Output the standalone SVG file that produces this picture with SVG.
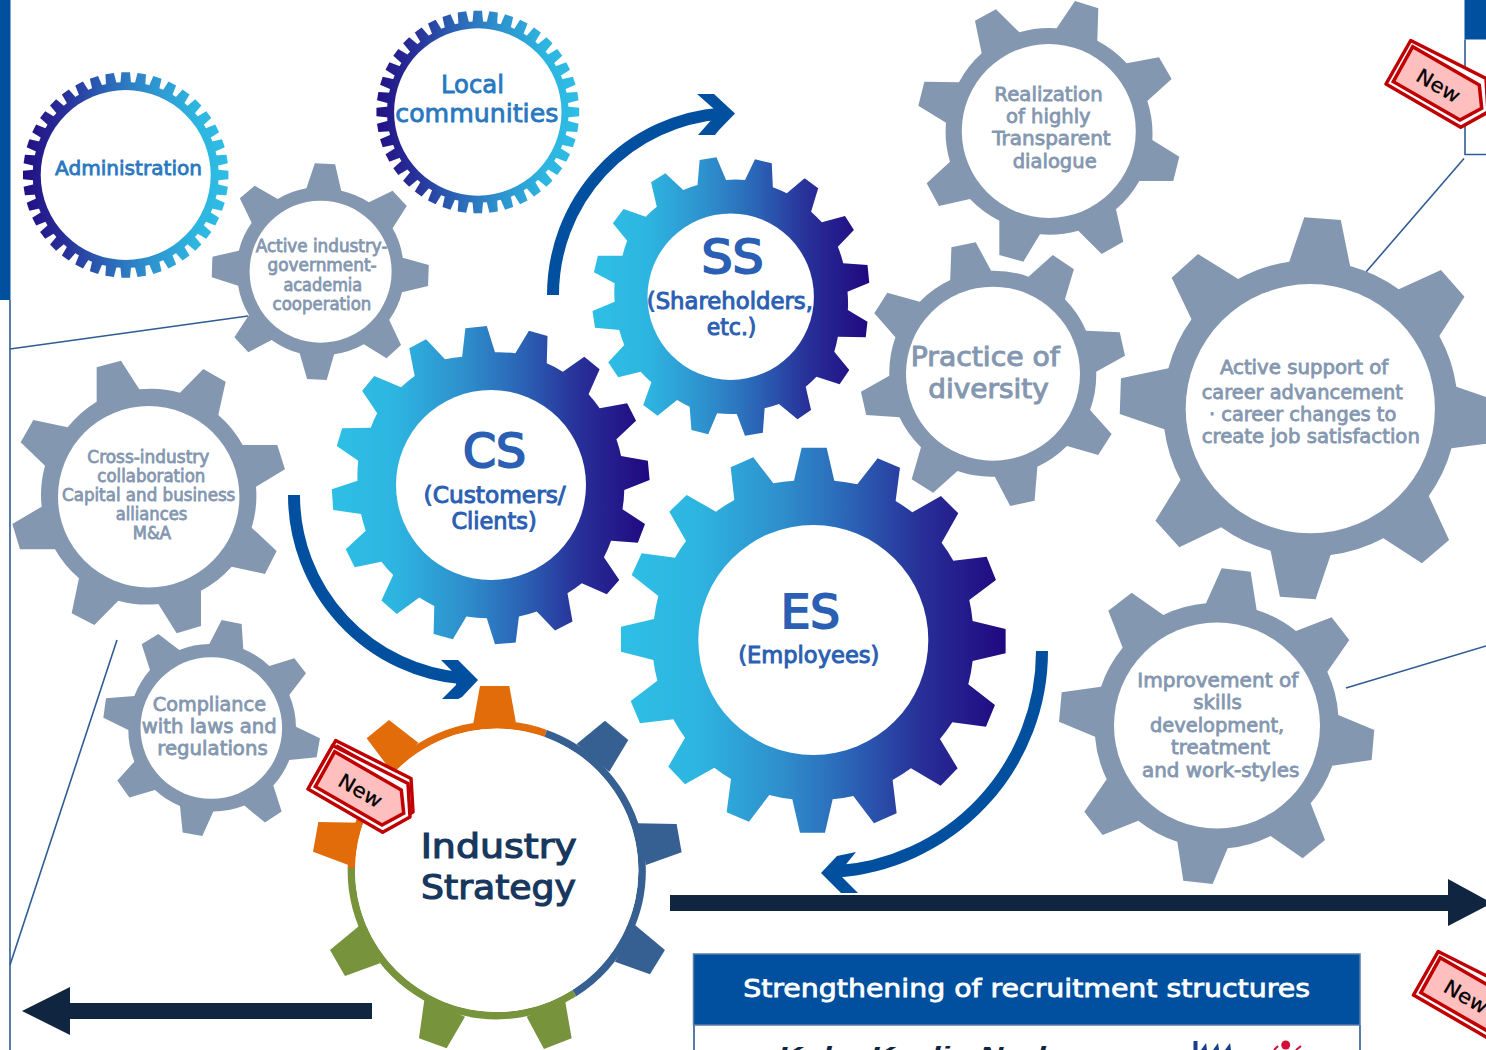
<svg xmlns="http://www.w3.org/2000/svg" xmlns:xlink="http://www.w3.org/1999/xlink" width="1486" height="1050" viewBox="0 0 1486 1050">
<style>
text{font-family:"DejaVu Sans","Liberation Sans",sans-serif;}
.gear{fill:#8497B0}
.hole{fill:#fff}
.gt{fill:#8497B0;stroke:#8497B0;stroke-width:.8}
.bt{fill:#2B5FB3;stroke:#2B5FB3;stroke-width:1}
.lt{fill:#2878C0;stroke:#2878C0;stroke-width:.8}
.ln{fill:none;stroke:#2F5C94;stroke-width:1.6}
.arc{fill:none;stroke:#00509F;stroke-width:12}
.hd{fill:#00509F}
.dk{fill:#10253F}
.is{fill:#17375E;stroke:#17375E;stroke-width:1.2;font-size:34px}
.ngrad{fill:url(#grad)}
.tago{fill:#fff;stroke:#C00000;stroke-width:3.5;stroke-linejoin:round}
.tagi{fill:#FFBFBF;stroke:#C00000;stroke-width:3.5}
.tagt{fill:#000;stroke:#000;stroke-width:.3;font-size:20px}
</style>
<defs>
<linearGradient id="grad" x1="0" x2="1" y1="0" y2="0">
<stop offset="0" stop-color="#2DBFE6"/><stop offset=".2" stop-color="#2DB5E0"/><stop offset=".42" stop-color="#2E8ECC"/><stop offset=".58" stop-color="#2B68B8"/><stop offset=".78" stop-color="#282F98"/><stop offset="1" stop-color="#200880"/>
</linearGradient>
<linearGradient id="gradr" x1="1" x2="0" y1="0" y2="0">
<stop offset="0" stop-color="#2DBFE6"/><stop offset=".2" stop-color="#2DB5E0"/><stop offset=".42" stop-color="#2E8ECC"/><stop offset=".58" stop-color="#2B68B8"/><stop offset=".78" stop-color="#282F98"/><stop offset="1" stop-color="#200880"/>
</linearGradient>
<polygon id="t1" points="-5.500,-90 -4.300,-102.700 4.300,-102.700 5.500,-90" fill="#fff"/>
<g id="t5"><use href="#t1"/><use href="#t1" transform="rotate(9)"/><use href="#t1" transform="rotate(18)"/><use href="#t1" transform="rotate(27)"/><use href="#t1" transform="rotate(36)"/></g>
<g id="t10"><use href="#t5"/><use href="#t5" transform="rotate(45)"/></g>
<g id="t40"><use href="#t10"/><use href="#t10" transform="rotate(90)"/><use href="#t10" transform="rotate(180)"/><use href="#t10" transform="rotate(270)"/></g>
<mask id="m-admin" maskUnits="userSpaceOnUse" x="15" y="65" width="225" height="225"><g transform="translate(125.7,175)"><use href="#t40"/><circle r="93" fill="#fff"/></g></mask>
<mask id="m-local" maskUnits="userSpaceOnUse" x="365" y="0" width="225" height="225"><g transform="translate(477.8,112) scale(.987)"><use href="#t40"/><circle r="92" fill="#fff"/></g></mask>
<g id="new-tag">
<polygon class="tago" points="1410.7,40.5 1386,84 1460.7,127.3 1488,112 1486,78.5"/>
<polygon class="tagi" points="1412.7,46.7 1393.3,81.7 1460,120 1481.7,108.3 1479.3,85"/>
<text class="tagt" transform="translate(1414.500,80) rotate(30)" textLength="47" lengthAdjust="spacingAndGlyphs">New</text>
</g>
</defs>
<rect width="1486" height="1050" fill="#fff"/>

<g id="frames">
<rect x="0" y="0" width="10.500" height="300" fill="#00509F"/>
<rect x="1464.500" y="0" width="22" height="39.500" fill="#00509F"/>
<path class="ln" d="M1465 39.500V154.500H1486"/>
</g>

<g id="connectors">
<path class="ln" d="M10 300V1050"/>
<path class="ln" d="M10 349L248 316"/>
<path class="ln" d="M117 640L10 965"/>
<path class="ln" d="M1464 158.500L1366 272"/>
<path class="ln" d="M1346 688L1486 646"/>
<path class="arc" d="M553 295A182 182 0 0 1 722 113.500"/>
<polygon class="hd" points="735,113.500 719,130 715,135 698,135 713,118 714,109 697,94 714,94"/>
<path class="arc" d="M294 495A184 184 0 0 0 464 678.500"/>
<polygon class="hd" points="478,680 462,697 458,699 442,699 456,685 457,676 441,660 458,660"/>
<path class="arc" d="M1042 651A221 221 0 0 1 835 871.600"/>
<polygon class="hd" points="821,873 837,856 856,852 843,868 842,877 858,893 841,893"/>
<rect class="dk" x="670" y="895" width="780" height="16"/>
<polygon class="dk" points="1448,879 1448,926 1492,903"/>
<rect class="dk" x="68" y="1003" width="304" height="16"/>
<polygon class="dk" points="70,987 70,1035 22,1011"/>
</g>

<g id="n-administration">
<rect x="15" y="65" width="225" height="225" fill="url(#gradr)" mask="url(#m-admin)"/>
<circle class="hole" cx="125.700" cy="175" r="85"/>
<text class="lt" x="55" y="175" font-size="19.500" textLength="147" lengthAdjust="spacingAndGlyphs">Administration</text>
</g>

<g id="n-local">
<rect x="365" y="0" width="225" height="225" fill="url(#gradr)" mask="url(#m-local)"/>
<circle class="hole" cx="477.800" cy="112" r="83.700"/>
<text class="lt" x="441" y="93" font-size="24" textLength="63" lengthAdjust="spacingAndGlyphs">Local</text>
<text class="lt" x="395.300" y="122" font-size="24" textLength="163" lengthAdjust="spacingAndGlyphs">communities</text>
</g>

<g id="n-industry-gov">
<path class="gear" transform="translate(205,0) scale(.338,.3333)" d="M300 565L325 490 385 493 403 572A245 245 0 0 1 485 607L555 572 597 618 555 685A245 245 0 0 1 585 773L662 795 660 858 583 877A245 245 0 0 1 545 960L580 1035 537 1075 470 1033A245 245 0 0 1 382 1063L360 1140 302 1137 280 1060A245 245 0 0 1 197 1020L128 1057 87 1012 130 945A245 245 0 0 1 98 857L20 832 22 770 100 752A245 245 0 0 1 138 668L103 595 147 557 215 597A245 245 0 0 1 300 565Z"/>
<ellipse class="hole" cx="320.600" cy="271.700" rx="71" ry="71"/>
<g class="gt" font-size="17">
<text x="255.700" y="252.300" textLength="131.800" lengthAdjust="spacingAndGlyphs">Active industry-</text>
<text x="267.500" y="271" textLength="109.200" lengthAdjust="spacingAndGlyphs">government-</text>
<text x="283.400" y="291" textLength="78.800" lengthAdjust="spacingAndGlyphs">academia</text>
<text x="272.600" y="310" textLength="98.700" lengthAdjust="spacingAndGlyphs">cooperation</text>
</g>
</g>

<g id="n-realization">
<path class="gear" transform="translate(860,0) scale(.3333)" d="M590 85L645 3 715 25 712 122A310 310 0 0 1 800 190L897 172 935 237 862 303A310 310 0 0 1 877 420L958 470 940 543 838 543A310 310 0 0 1 768 628L790 725 725 762 655 692A310 310 0 0 1 540 703L490 785 418 765 418 662A310 310 0 0 1 330 597L237 618 200 550 270 485A310 310 0 0 1 258 368L175 317 193 245 297 247A310 310 0 0 1 365 160L345 62 408 28 478 97A310 310 0 0 1 590 85Z"/>
<circle class="hole" cx="1048.800" cy="131" r="87"/>
<g class="gt" font-size="19">
<text x="994.300" y="101" textLength="108.400" lengthAdjust="spacingAndGlyphs">Realization</text>
<text x="1006" y="122.700" textLength="84.700" lengthAdjust="spacingAndGlyphs">of highly</text>
<text x="992.300" y="145" textLength="118.400" lengthAdjust="spacingAndGlyphs">Transparent</text>
<text x="1012.700" y="167.700" textLength="84" lengthAdjust="spacingAndGlyphs">dialogue</text>
</g>
</g>

<g id="n-diversity">
<path class="gear" transform="translate(850,210) scale(.4056,.3333)" d="M247 210L250 112 310 97 348 182A254 309 0 0 1 440 200L500 135 552 178 530 268A254 309 0 0 1 582 362L665 367 678 437 607 485A254 309 0 0 1 592 600L645 672 612 735 535 708A254 309 0 0 1 462 770L455 872 395 888 357 800A254 309 0 0 1 265 783L205 848 152 808 175 712A254 309 0 0 1 122 622L40 615 27 545 97 497A254 309 0 0 1 112 382L60 310 92 248 172 275A254 309 0 0 1 247 210Z"/>
<circle class="hole" cx="993" cy="373.700" r="87"/>
<g class="gt" font-size="26" style="stroke-width:1">
<text x="910.800" y="365.700" textLength="148.900" lengthAdjust="spacingAndGlyphs">Practice of</text>
<text x="928.300" y="397.700" textLength="120.400" lengthAdjust="spacingAndGlyphs">diversity</text>
</g>
</g>

<g id="n-career">
<path class="gear" transform="translate(850,210) scale(.4056,.3333)" d="M1083 155L1120 22 1210 30 1233 168A365 444 0 0 1 1353 238L1457 180 1515 260 1453 378A365 444 0 0 1 1495 530L1625 585 1610 695 1483 715A365 444 0 0 1 1427 858L1477 990 1410 1060 1315 985A365 444 0 0 1 1185 1035L1148 1168 1060 1160 1037 1022A365 444 0 0 1 915 952L812 1012 753 932 815 810A365 444 0 0 1 775 658L665 612 668 505 785 475A365 444 0 0 1 842 328L793 203 858 132 957 207A365 444 0 0 1 1083 155Z"/>
<circle class="hole" cx="1310.300" cy="408.700" r="124.600"/>
<g class="gt" font-size="19">
<text x="1219.900" y="374" textLength="168.300" lengthAdjust="spacingAndGlyphs">Active support of</text>
<text x="1201.700" y="399.300" textLength="201.100" lengthAdjust="spacingAndGlyphs">career advancement</text>
<text x="1209" y="421.300" textLength="187.300" lengthAdjust="spacingAndGlyphs">· career changes to</text>
<text x="1201.700" y="442.700" textLength="218.200" lengthAdjust="spacingAndGlyphs">create job satisfaction</text>
</g>
</g>

<g id="n-skills">
<path class="gear" transform="translate(1040,560) scale(.3333)" d="M498 130L545 25 632 35 650 150A365 365 0 0 1 768 213L875 172 928 240 862 335A365 365 0 0 1 895 465L1003 510 995 600 877 617A365 365 0 0 1 812 730L855 840 788 895 692 828A365 365 0 0 1 563 865L518 972 430 962 412 845A365 365 0 0 1 295 782L188 825 133 755 200 658A365 365 0 0 1 165 530L57 485 65 397 183 380A365 365 0 0 1 248 263L205 152 275 98 370 165A365 365 0 0 1 498 130Z"/>
<circle class="hole" cx="1217" cy="725.500" r="103"/>
<g class="gt" font-size="19">
<text x="1137.300" y="687" textLength="161" lengthAdjust="spacingAndGlyphs">Improvement of</text>
<text x="1193.300" y="709.300" textLength="48.400" lengthAdjust="spacingAndGlyphs">skills</text>
<text x="1150" y="732" textLength="134.300" lengthAdjust="spacingAndGlyphs">development,</text>
<text x="1171" y="754.300" textLength="99" lengthAdjust="spacingAndGlyphs">treatment</text>
<text x="1142" y="777" textLength="157.300" lengthAdjust="spacingAndGlyphs">and work-styles</text>
</g>
</g>

<g id="n-cross-industry">
<path class="gear" transform="translate(0,350) scale(.3333)" d="M290 155L290 52 363 32 418 118A323 323 0 0 1 540 128L610 57 677 95 655 195A323 323 0 0 1 728 285L832 285 855 358 768 410A323 323 0 0 1 755 533L830 603 795 672 695 650A323 323 0 0 1 603 722L603 828 530 850 475 762A323 323 0 0 1 355 752L283 825 215 790 237 685A323 323 0 0 1 165 598L60 598 37 522 125 470A323 323 0 0 1 135 347L62 277 100 210 203 232A323 323 0 0 1 290 155Z"/>
<circle class="hole" cx="148.700" cy="496.700" r="90.700"/>
<g class="gt" font-size="17">
<text x="87.300" y="463.300" textLength="122" lengthAdjust="spacingAndGlyphs">Cross-industry</text>
<text x="97.300" y="482.300" textLength="108" lengthAdjust="spacingAndGlyphs">collaboration</text>
<text x="62" y="501.300" textLength="173.300" lengthAdjust="spacingAndGlyphs">Capital and business</text>
<text x="115.700" y="520.300" textLength="71.600" lengthAdjust="spacingAndGlyphs">alliances</text>
<text x="132.700" y="539.300" textLength="38.300" lengthAdjust="spacingAndGlyphs">M&amp;A</text>
</g>
</g>

<g id="n-compliance">
<path class="gear" transform="translate(0,350) scale(.3333)" d="M628 882L665 810 725 822 730 897A254 254 0 0 1 808 948L883 925 918 970 868 1035A254 254 0 0 1 888 1130L960 1165 950 1222 868 1230A254 254 0 0 1 820 1307L845 1385 795 1418 733 1367A254 254 0 0 1 640 1385L607 1458 548 1448 540 1368A254 254 0 0 1 465 1320L388 1343 352 1292 403 1235A254 254 0 0 1 385 1140L310 1103 318 1045 403 1038A254 254 0 0 1 450 960L425 883 475 852 538 900A254 254 0 0 1 628 882Z"/>
<circle class="hole" cx="211.300" cy="728" r="70.800"/>
<g class="gt" font-size="19">
<text x="152.700" y="711" textLength="113.300" lengthAdjust="spacingAndGlyphs">Compliance</text>
<text x="141.700" y="733.300" textLength="135" lengthAdjust="spacingAndGlyphs">with laws and</text>
<text x="157.300" y="755" textLength="110.400" lengthAdjust="spacingAndGlyphs">regulations</text>
</g>
</g>

<g id="n-ss">
<path class="ngrad" transform="translate(320,150) scale(.35714,.3333)" d="M1057 105L1063 30 1110 22 1137 90A326 349.500 0 0 1 1190 90L1218 28 1265 40 1268 112A326 349.500 0 0 1 1307 130L1357 85 1395 115 1375 185A326 349.500 0 0 1 1405 217L1470 198 1495 240 1450 290A326 349.500 0 0 1 1465 340L1533 345 1538 398 1477 425A326 349.500 0 0 1 1478 480L1533 515 1528 562 1450 560A326 349.500 0 0 1 1440 605L1482 660 1455 703 1390 680A326 349.500 0 0 1 1360 710L1375 780 1337 808 1285 762A326 349.500 0 0 1 1245 775L1240 848 1190 857 1167 792A326 349.500 0 0 1 1112 790L1087 853 1040 840 1035 770A326 349.500 0 0 1 1000 750L945 797 905 765 928 697A326 349.500 0 0 1 898 665L835 682 807 637 852 585A326 349.500 0 0 1 838 540L770 533 763 483 825 455A326 349.500 0 0 1 825 400L767 367 778 317 847 317A326 349.500 0 0 1 860 272L820 220 850 177 912 200A326 349.500 0 0 1 943 170L927 97 967 70 1017 120A326 349.500 0 0 1 1057 105Z"/>
<circle class="hole" cx="730.700" cy="296.700" r="83.200"/>
<text class="bt" x="701.400" y="273.300" font-size="47" style="stroke-width:2" textLength="62.200" lengthAdjust="spacingAndGlyphs">SS</text>
<text class="bt" x="646.800" y="309.300" font-size="22.500" textLength="166.100" lengthAdjust="spacingAndGlyphs">(Shareholders,</text>
<text class="bt" x="706.800" y="335" font-size="22.500" textLength="49.600" lengthAdjust="spacingAndGlyphs">etc.)</text>
</g>

<g id="n-cs">
<path class="ngrad" transform="translate(320,150) scale(.35714,.3333)" d="M398 620L407 535 467 528 490 607A368 394.500 0 0 1 547 610L585 542 637 558 635 640A368 394.500 0 0 1 680 665L740 620 783 658 752 733A368 394.500 0 0 1 783 775L860 760 885 812 830 868A368 394.500 0 0 1 843 918L918 932 923 990 852 1020A368 394.500 0 0 1 847 1078L910 1122 890 1178 815 1172A368 394.500 0 0 1 795 1222L838 1290 803 1333 733 1300A368 394.500 0 0 1 693 1330L707 1415 658 1442 607 1385A368 394.500 0 0 1 557 1400L548 1478 490 1483 467 1405A368 394.500 0 0 1 410 1400L372 1468 318 1452 320 1368A368 394.500 0 0 1 278 1343L215 1392 172 1352 205 1275A368 394.500 0 0 1 172 1235L97 1252 72 1198 128 1142A368 394.500 0 0 1 115 1092L37 1080 33 1018 105 992A368 394.500 0 0 1 107 932L47 888 62 835 142 833A368 394.500 0 0 1 160 790L118 722 152 678 227 712A368 394.500 0 0 1 265 678L250 595 297 568 350 628A368 394.500 0 0 1 398 620Z"/>
<circle class="hole" cx="491" cy="485" r="95"/>
<text class="bt" x="462.900" y="467.300" font-size="47" style="stroke-width:2" textLength="63.100" lengthAdjust="spacingAndGlyphs">CS</text>
<text class="bt" x="423.600" y="503.300" font-size="22.500" textLength="142.100" lengthAdjust="spacingAndGlyphs">(Customers/</text>
<text class="bt" x="451.400" y="529" font-size="22.500" textLength="85.400" lengthAdjust="spacingAndGlyphs">Clients)</text>
</g>

<g id="n-es">
<path class="ngrad" transform="translate(610,440) scale(.3333)" d="M552 122L575 23 650 23 673 122A482 482 0 0 1 742 133L803 55 870 83 857 183A482 482 0 0 1 907 217L993 168 1045 220 995 308A482 482 0 0 1 1030 362L1130 350 1158 420 1078 480A482 482 0 0 1 1088 543L1187 567 1187 640 1088 663A482 482 0 0 1 1075 733L1155 795 1128 860 1027 847A482 482 0 0 1 990 897L1043 985 992 1037 903 985A482 482 0 0 1 848 1020L860 1120 792 1150 730 1068A482 482 0 0 1 668 1078L645 1178 570 1178 547 1078A482 482 0 0 1 478 1065L417 1145 350 1117 363 1017A482 482 0 0 1 313 983L225 1033 175 980 225 893A482 482 0 0 1 190 838L90 850 62 783 142 722A482 482 0 0 1 130 660L33 635 33 560 132 537A482 482 0 0 1 145 468L65 405 95 340 195 353A482 482 0 0 1 228 303L178 215 230 165 318 215A482 482 0 0 1 373 180L362 82 430 52 490 130A482 482 0 0 1 552 122Z"/>
<circle class="hole" cx="813.300" cy="640" r="115"/>
<text class="bt" x="780.700" y="628.300" font-size="47" style="stroke-width:2" textLength="59.300" lengthAdjust="spacingAndGlyphs">ES</text>
<text class="bt" x="738.300" y="663.300" font-size="22.500" textLength="141" lengthAdjust="spacingAndGlyphs">(Employees)</text>
</g>

<g id="n-industry-strategy">
<g transform="translate(290,670) scale(.3333)">
<polygon fill="#E36C0A" points="550,160 570,48 658,48 678,158"/>
<polygon fill="#E36C0A" points="385,218 297,150 230,205 305,305"/>
<polygon fill="#E36C0A" points="215,458 85,456 69,545 175,585"/>
<polygon fill="#376092" points="860,222 945,152 1015,210 958,305"/>
<polygon fill="#376092" points="1043,460 1160,462 1175,547 1068,585"/>
<polygon fill="#376092" points="1035,765 1125,840 1080,913 975,875"/>
<polygon fill="#77933C" points="710,1040 762,1137 845,1105 825,990"/>
<polygon fill="#77933C" points="525,1040 470,1135 387,1105 403,990"/>
<polygon fill="#77933C" points="270,880 165,918 120,840 207,768"/>
</g>
<path fill="none" stroke="#E36C0A" stroke-width="7.500" d="M351.400 868A145.300 145.300 0 0 1 545.700 733.500"/>
<path fill="none" stroke="#376092" stroke-width="7.500" d="M545.700 733.500A145.300 145.300 0 0 1 574.300 993.200"/>
<path fill="none" stroke="#77933C" stroke-width="7.500" d="M574.300 993.200A145.300 145.300 0 0 1 351.400 868"/>
<circle class="hole" cx="496.700" cy="870.300" r="141.700"/>
<text class="is" x="420.700" y="857.700" textLength="156" lengthAdjust="spacingAndGlyphs">Industry</text>
<text class="is" x="421" y="899.300" textLength="155" lengthAdjust="spacingAndGlyphs">Strategy</text>
</g>

<g id="n-recruitment">
<path fill="#fff" stroke="#2F5C94" stroke-width="1.600" d="M694 1025V1050M1360 1025V1050"/>
<rect x="693.500" y="954" width="666.500" height="71" fill="#00509F" stroke="#5A7CA8" stroke-width="1.500"/>
<text x="743.200" y="996.700" font-size="25" fill="#fff" stroke="#fff" stroke-width=".8" textLength="566.800" lengthAdjust="spacingAndGlyphs">Strengthening of recruitment structures</text>
<text x="778" y="1064" font-size="24" font-weight="700" font-style="italic" fill="#10253F" style="font-family:'Liberation Sans',sans-serif" textLength="277" lengthAdjust="spacingAndGlyphs">Kobe Kaelin Nork</text>
<g id="logo">
<rect x="1193.500" y="1041" width="4" height="9" fill="#1A3E8C"/>
<polygon points="1201,1050 1206,1043 1207,1050" fill="#1A3E8C"/>
<polygon points="1213,1050 1218,1043 1219,1050" fill="#1A3E8C"/>
<polygon points="1225,1050 1230,1043 1231,1050" fill="#1A3E8C"/>
<circle cx="1285.700" cy="1045" r="4.500" fill="#D0103A"/>
<path d="M1274 1050L1278 1046M1296 1050L1301 1046" stroke="#D0103A" stroke-width="2" fill="none"/>
</g>
</g>

<g id="n-new-tags">
<use href="#new-tag"/>
<use href="#new-tag" x="-1075" y="700"/>
<use href="#new-tag" x="-1078" y="705"/>
<use href="#new-tag" x="27.500" y="911"/>
</g>
</svg>
